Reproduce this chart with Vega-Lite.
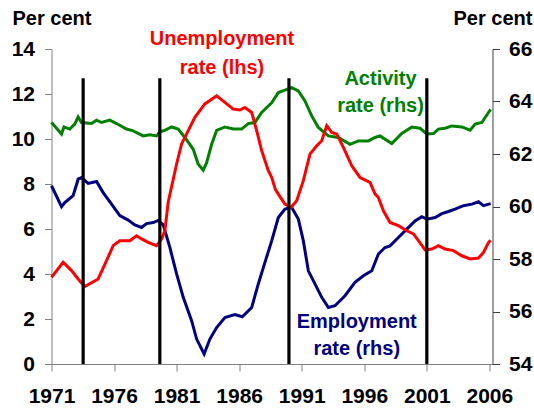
{
  "$schema": "https://vega.github.io/schema/vega-lite/v6.json",
  "width": 441,
  "height": 315,
  "autosize": {"type": "none"},
  "padding": {"left": 51.5, "top": 49, "right": 41.5, "bottom": 50},
  "background": "white",
  "config": {"view": {"stroke": null}, "font": "Liberation Sans"},
  "datasets": {
    "unemp": [
      {"year": 1971.0, "value": 3.85}, {"year": 1971.93, "value": 4.52}, {"year": 1972.6, "value": 4.15},
      {"year": 1973.13, "value": 3.78}, {"year": 1973.66, "value": 3.44}, {"year": 1974.73, "value": 3.78},
      {"year": 1975.4, "value": 4.59}, {"year": 1975.93, "value": 5.26}, {"year": 1976.46, "value": 5.48},
      {"year": 1977.26, "value": 5.48}, {"year": 1977.8, "value": 5.7}, {"year": 1978.2, "value": 5.56},
      {"year": 1978.73, "value": 5.41}, {"year": 1979.4, "value": 5.26}, {"year": 1979.8, "value": 5.55},
      {"year": 1980.06, "value": 5.92}, {"year": 1980.33, "value": 7.2}, {"year": 1981.0, "value": 8.89},
      {"year": 1981.4, "value": 9.78}, {"year": 1981.93, "value": 10.37}, {"year": 1982.46, "value": 10.96},
      {"year": 1983.26, "value": 11.56}, {"year": 1984.2, "value": 11.92}, {"year": 1984.86, "value": 11.63},
      {"year": 1985.53, "value": 11.33}, {"year": 1986.06, "value": 11.29}, {"year": 1986.46, "value": 11.4},
      {"year": 1987.0, "value": 11.18}, {"year": 1987.4, "value": 10.37}, {"year": 1987.8, "value": 9.48},
      {"year": 1988.33, "value": 8.59}, {"year": 1988.6, "value": 8.3}, {"year": 1988.9, "value": 7.75},
      {"year": 1989.13, "value": 7.55}, {"year": 1989.66, "value": 7.11}, {"year": 1990.14, "value": 6.96},
      {"year": 1990.6, "value": 7.26}, {"year": 1991.13, "value": 8.15}, {"year": 1991.66, "value": 9.33},
      {"year": 1992.2, "value": 9.7}, {"year": 1992.6, "value": 9.92}, {"year": 1993.0, "value": 10.59},
      {"year": 1993.4, "value": 10.29}, {"year": 1993.8, "value": 10.22}, {"year": 1994.33, "value": 9.63},
      {"year": 1995.0, "value": 8.81}, {"year": 1995.66, "value": 8.29}, {"year": 1996.46, "value": 8.07},
      {"year": 1996.86, "value": 7.56}, {"year": 1997.13, "value": 7.4}, {"year": 1997.53, "value": 6.81},
      {"year": 1998.06, "value": 6.29}, {"year": 1998.73, "value": 6.15}, {"year": 1999.4, "value": 5.92},
      {"year": 1999.93, "value": 5.78}, {"year": 2000.33, "value": 5.48}, {"year": 2000.86, "value": 5.07},
      {"year": 2001.4, "value": 5.11}, {"year": 2001.93, "value": 5.26}, {"year": 2002.46, "value": 5.11},
      {"year": 2003.13, "value": 5.04}, {"year": 2003.8, "value": 4.81}, {"year": 2004.46, "value": 4.67},
      {"year": 2005.13, "value": 4.71}, {"year": 2005.53, "value": 4.96}, {"year": 2005.93, "value": 5.4},
      {"year": 2006.1, "value": 5.5}
    ],
    "rhs": [
      {"series": "Activity", "year": 1971.0, "value": 63.2}, {"series": "Activity", "year": 1971.4, "value": 62.98},
      {"series": "Activity", "year": 1971.8, "value": 62.76}, {"series": "Activity", "year": 1972.0, "value": 63.03},
      {"series": "Activity", "year": 1972.46, "value": 62.95}, {"series": "Activity", "year": 1972.86, "value": 63.14},
      {"series": "Activity", "year": 1973.13, "value": 63.41}, {"series": "Activity", "year": 1973.4, "value": 63.2},
      {"series": "Activity", "year": 1974.2, "value": 63.16}, {"series": "Activity", "year": 1974.6, "value": 63.29},
      {"series": "Activity", "year": 1975.0, "value": 63.2}, {"series": "Activity", "year": 1975.66, "value": 63.29},
      {"series": "Activity", "year": 1976.2, "value": 63.16}, {"series": "Activity", "year": 1977.0, "value": 62.95},
      {"series": "Activity", "year": 1977.53, "value": 62.88}, {"series": "Activity", "year": 1978.33, "value": 62.69},
      {"series": "Activity", "year": 1978.86, "value": 62.73}, {"series": "Activity", "year": 1979.4, "value": 62.69},
      {"series": "Activity", "year": 1979.66, "value": 62.85}, {"series": "Activity", "year": 1980.06, "value": 62.9},
      {"series": "Activity", "year": 1980.6, "value": 63.03}, {"series": "Activity", "year": 1981.13, "value": 62.95},
      {"series": "Activity", "year": 1981.66, "value": 62.63}, {"series": "Activity", "year": 1982.33, "value": 62.18},
      {"series": "Activity", "year": 1982.73, "value": 61.61}, {"series": "Activity", "year": 1983.13, "value": 61.38},
      {"series": "Activity", "year": 1983.4, "value": 61.67}, {"series": "Activity", "year": 1983.8, "value": 62.37},
      {"series": "Activity", "year": 1984.2, "value": 62.9}, {"series": "Activity", "year": 1984.86, "value": 63.03},
      {"series": "Activity", "year": 1985.53, "value": 62.95}, {"series": "Activity", "year": 1986.2, "value": 62.95},
      {"series": "Activity", "year": 1986.73, "value": 63.16}, {"series": "Activity", "year": 1987.26, "value": 63.2},
      {"series": "Activity", "year": 1987.8, "value": 63.58}, {"series": "Activity", "year": 1988.33, "value": 63.83},
      {"series": "Activity", "year": 1988.6, "value": 63.95}, {"series": "Activity", "year": 1989.13, "value": 64.34},
      {"series": "Activity", "year": 1989.66, "value": 64.43}, {"series": "Activity", "year": 1990.2, "value": 64.53},
      {"series": "Activity", "year": 1990.73, "value": 64.4}, {"series": "Activity", "year": 1991.26, "value": 64.02},
      {"series": "Activity", "year": 1991.8, "value": 63.45}, {"series": "Activity", "year": 1992.33, "value": 63.01},
      {"series": "Activity", "year": 1993.13, "value": 62.69}, {"series": "Activity", "year": 1993.93, "value": 62.63},
      {"series": "Activity", "year": 1994.86, "value": 62.37}, {"series": "Activity", "year": 1995.53, "value": 62.5},
      {"series": "Activity", "year": 1996.33, "value": 62.5}, {"series": "Activity", "year": 1996.86, "value": 62.63},
      {"series": "Activity", "year": 1997.26, "value": 62.69}, {"series": "Activity", "year": 1998.2, "value": 62.4},
      {"series": "Activity", "year": 1999.0, "value": 62.78}, {"series": "Activity", "year": 1999.8, "value": 63.03},
      {"series": "Activity", "year": 2000.46, "value": 62.98}, {"series": "Activity", "year": 2001.0, "value": 62.76},
      {"series": "Activity", "year": 2001.53, "value": 62.78}, {"series": "Activity", "year": 2001.93, "value": 62.95},
      {"series": "Activity", "year": 2002.46, "value": 62.98}, {"series": "Activity", "year": 2003.0, "value": 63.07},
      {"series": "Activity", "year": 2003.8, "value": 63.03}, {"series": "Activity", "year": 2004.46, "value": 62.91},
      {"series": "Activity", "year": 2004.86, "value": 63.14}, {"series": "Activity", "year": 2005.4, "value": 63.2},
      {"series": "Activity", "year": 2005.93, "value": 63.58}, {"series": "Activity", "year": 2006.1, "value": 63.7},
      {"series": "Employment", "year": 1971.0, "value": 60.79}, {"series": "Employment", "year": 1971.8, "value": 59.99},
      {"series": "Employment", "year": 1972.06, "value": 60.15}, {"series": "Employment", "year": 1972.73, "value": 60.41},
      {"series": "Employment", "year": 1973.13, "value": 61.04}, {"series": "Employment", "year": 1973.4, "value": 61.1},
      {"series": "Employment", "year": 1973.93, "value": 60.88}, {"series": "Employment", "year": 1974.6, "value": 60.95},
      {"series": "Employment", "year": 1975.13, "value": 60.53}, {"series": "Employment", "year": 1975.8, "value": 60.09},
      {"series": "Employment", "year": 1976.46, "value": 59.65}, {"series": "Employment", "year": 1977.13, "value": 59.48},
      {"series": "Employment", "year": 1977.66, "value": 59.3}, {"series": "Employment", "year": 1978.2, "value": 59.2},
      {"series": "Employment", "year": 1978.6, "value": 59.35}, {"series": "Employment", "year": 1979.13, "value": 59.39},
      {"series": "Employment", "year": 1979.53, "value": 59.47}, {"series": "Employment", "year": 1979.93, "value": 59.3},
      {"series": "Employment", "year": 1980.46, "value": 58.44}, {"series": "Employment", "year": 1981.0, "value": 57.43},
      {"series": "Employment", "year": 1981.53, "value": 56.54}, {"series": "Employment", "year": 1982.2, "value": 55.65},
      {"series": "Employment", "year": 1982.6, "value": 54.95}, {"series": "Employment", "year": 1983.2, "value": 54.38},
      {"series": "Employment", "year": 1983.66, "value": 54.95}, {"series": "Employment", "year": 1984.2, "value": 55.39},
      {"series": "Employment", "year": 1984.86, "value": 55.77}, {"series": "Employment", "year": 1985.66, "value": 55.88},
      {"series": "Employment", "year": 1986.25, "value": 55.8}, {"series": "Employment", "year": 1987.0, "value": 56.15},
      {"series": "Employment", "year": 1987.53, "value": 57.05}, {"series": "Employment", "year": 1988.06, "value": 57.87},
      {"series": "Employment", "year": 1988.6, "value": 58.69}, {"series": "Employment", "year": 1989.13, "value": 59.58},
      {"series": "Employment", "year": 1989.66, "value": 59.9}, {"series": "Employment", "year": 1990.2, "value": 59.96},
      {"series": "Employment", "year": 1990.73, "value": 59.52}, {"series": "Employment", "year": 1991.13, "value": 58.69},
      {"series": "Employment", "year": 1991.53, "value": 57.55}, {"series": "Employment", "year": 1992.06, "value": 57.05},
      {"series": "Employment", "year": 1992.6, "value": 56.54}, {"series": "Employment", "year": 1993.13, "value": 56.15},
      {"series": "Employment", "year": 1993.66, "value": 56.22}, {"series": "Employment", "year": 1994.46, "value": 56.6},
      {"series": "Employment", "year": 1995.26, "value": 57.11}, {"series": "Employment", "year": 1995.93, "value": 57.36},
      {"series": "Employment", "year": 1996.6, "value": 57.55}, {"series": "Employment", "year": 1997.13, "value": 58.19},
      {"series": "Employment", "year": 1997.66, "value": 58.44}, {"series": "Employment", "year": 1998.06, "value": 58.5},
      {"series": "Employment", "year": 1998.73, "value": 58.82}, {"series": "Employment", "year": 1999.4, "value": 59.14},
      {"series": "Employment", "year": 2000.06, "value": 59.45}, {"series": "Employment", "year": 2000.6, "value": 59.61},
      {"series": "Employment", "year": 2001.0, "value": 59.52}, {"series": "Employment", "year": 2001.66, "value": 59.58},
      {"series": "Employment", "year": 2002.2, "value": 59.73}, {"series": "Employment", "year": 2002.73, "value": 59.81},
      {"series": "Employment", "year": 2003.26, "value": 59.9}, {"series": "Employment", "year": 2003.93, "value": 60.03},
      {"series": "Employment", "year": 2004.6, "value": 60.09}, {"series": "Employment", "year": 2005.13, "value": 60.18},
      {"series": "Employment", "year": 2005.53, "value": 60.03}, {"series": "Employment", "year": 2006.1, "value": 60.11}
    ],
    "cycles": [
      {"year": 1973.53}, {"year": 1979.66}, {"year": 1989.98}, {"year": 2001.0}
    ]
  },
  "layer": [
    {
      "data": {"name": "rhs"},
      "mark": {"type": "line", "strokeWidth": 3, "clip": false},
      "encoding": {
        "x": {"field": "year", "type": "quantitative", "scale": {"domain": [1971, 2006.25], "nice": false, "zero": false},
          "axis": {"values": [1971, 1976, 1981, 1986, 1991, 1996, 2001, 2006], "format": "d", "grid": false,
            "domainColor": "#808080", "tickColor": "#808080", "tickSize": 7,
            "labelFont": "Liberation Sans",
            "labelFontWeight": "bold", "labelFontSize": 21, "labelColor": "black", "labelPadding": 14, "labelFlush": false,
            "labelOverlap": false, "title": null}},
        "y": {"field": "value", "type": "quantitative", "scale": {"domain": [54, 66], "nice": false, "zero": false},
          "axis": {"orient": "right", "values": [54, 56, 58, 60, 62, 64, 66], "grid": false,
            "domainColor": "#404040", "tickColor": "#404040", "tickSize": 7,
            "labelFont": "Liberation Sans",
            "labelFontWeight": "bold", "labelFontSize": 21, "labelColor": "black", "labelPadding": 9,
            "title": "Per cent", "titleAngle": 0, "titleX": 0, "titleY": -25, "titleAlign": "center",
            "titleBaseline": "alphabetic", "titleFont": "Liberation Sans",
            "titleFontSize": 20, "titleFontWeight": "bold", "titleColor": "black"}},
        "color": {"field": "series", "type": "nominal", "scale": {"domain": ["Activity", "Employment"], "range": ["#008000", "#000080"]}, "legend": null}
      }
    },
    {
      "layer": [
        {
          "data": {"name": "unemp"},
          "mark": {"type": "line", "strokeWidth": 3, "color": "#FF0000", "clip": false},
          "encoding": {
            "x": {"field": "year", "type": "quantitative", "scale": {"domain": [1971, 2006.25], "nice": false, "zero": false}, "title": null},
            "y": {"field": "value", "type": "quantitative", "scale": {"domain": [0, 14], "nice": false, "zero": false},
              "axis": {"orient": "left", "values": [0, 2, 4, 6, 8, 10, 12, 14], "grid": false,
                "domainColor": "#808080", "tickColor": "#808080", "tickSize": 7,
                "labelFont": "Liberation Sans",
                "labelFontWeight": "bold", "labelFontSize": 21, "labelColor": "black", "labelPadding": 10,
                "title": "Per cent", "titleAngle": 0, "titleX": 0, "titleY": -25, "titleAlign": "center",
                "titleBaseline": "alphabetic", "titleFont": "Liberation Sans",
                "titleFontSize": 20, "titleFontWeight": "bold", "titleColor": "black"}}
          }
        },
        {
          "data": {"name": "cycles"},
          "mark": {"type": "rule", "strokeWidth": 3.2, "color": "black"},
          "encoding": {
            "x": {"field": "year", "type": "quantitative", "scale": {"domain": [1971, 2006.25], "nice": false, "zero": false}, "title": null},
            "y": {"datum": 0, "type": "quantitative", "title": "Per cent"},
            "y2": {"datum": 12.7}
          }
        },
        {
          "data": {"values": [{}]},
          "mark": {"type": "text", "text": ["Unemployment", "rate (lhs)"], "lineHeight": 29, "align": "center", "baseline": "alphabetic",
            "font": "Liberation Sans", "fontWeight": "bold", "fontSize": 20, "color": "#FF0000"},
          "encoding": {
            "x": {"datum": 1984.63, "type": "quantitative", "title": null},
            "y": {"datum": 14.18, "type": "quantitative", "title": "Per cent"}
          }
        },
        {
          "data": {"values": [{}]},
          "mark": {"type": "text", "text": ["Activity", "rate (rhs)"], "lineHeight": 27, "align": "center", "baseline": "alphabetic",
            "font": "Liberation Sans", "fontWeight": "bold", "fontSize": 20, "color": "#008000"},
          "encoding": {
            "x": {"datum": 1997.3, "type": "quantitative", "title": null},
            "y": {"datum": 12.4, "type": "quantitative", "title": "Per cent"}
          }
        },
        {
          "data": {"values": [{}]},
          "mark": {"type": "text", "text": ["Employment", "rate (rhs)"], "lineHeight": 27, "align": "center", "baseline": "alphabetic",
            "font": "Liberation Sans", "fontWeight": "bold", "fontSize": 20, "color": "#000080"},
          "encoding": {
            "x": {"datum": 1995.4, "type": "quantitative", "title": null},
            "y": {"datum": 1.59, "type": "quantitative", "title": "Per cent"}
          }
        }
      ]
    }
  ],
  "resolve": {"scale": {"y": "independent"}}
}
